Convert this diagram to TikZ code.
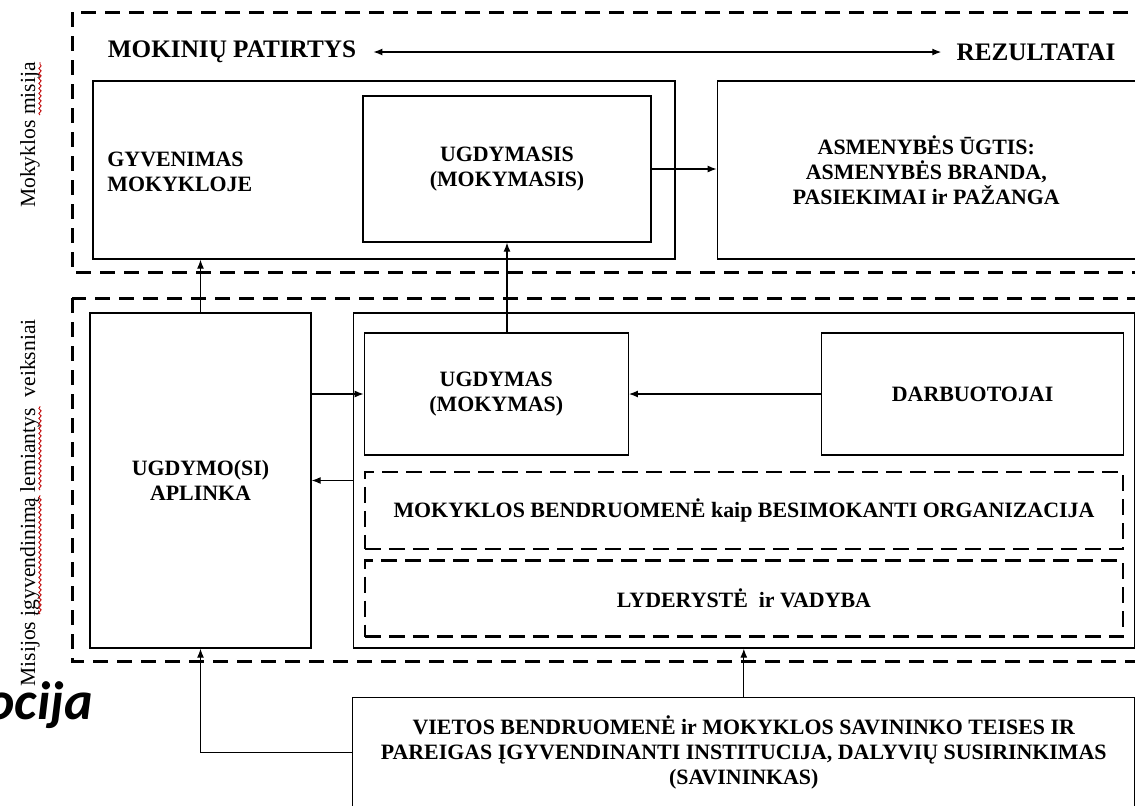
\documentclass[tikz,border=0pt]{standalone}
\usepackage{fontspec}
\setmainfont{Liberation Serif}
\newfontfamily\calibri{Carlito}
\usepackage{tikz}
\usetikzlibrary{shapes, arrows.meta, positioning, fit, decorations.pathmorphing}

\begin{document}
\begin{tikzpicture}[x=0.5pt, y=-0.5pt,
    block/.style={draw=black, rectangle, line width=0.65pt, inner sep=2pt, align=center, font=\fontsize{10.95}{12.6}\selectfont\bfseries},
    dblock/.style={block, line width=1.3pt, dash pattern=on 8pt off 4pt},
    frame/.style={draw=black, line width=1.5pt, dash pattern=on 7.5pt off 4.5pt},
    title/.style={inner sep=0pt, font=\fontsize{12.6}{14}\selectfont\bfseries},
    side/.style={rotate=90, inner sep=0pt, font=\fontsize{10.8}{13}\selectfont},
    arrow/.style={->, >={Latex[length=4.5pt,width=3.5pt]}, line width=0.6pt},
    squiggle/.style={red!75!black, line width=0.4pt, decorate, decoration={snake, amplitude=0.6pt, segment length=2.5pt}}
]
\useasboundingbox (0,0) rectangle (1135,805);
\clip (0,0) rectangle (1135,805);

% mission frame
\draw[frame] (72,12) rectangle (1180,272);
\node[title] (patirtys) at (232,52) {MOKINIŲ PATIRTYS};
\node[title] (rezultatai) at (1036,52) {REZULTATAI};
\node[block, minimum width=291pt, minimum height=89pt] (gyv) at (384,170) {};
\node[inner sep=0pt, anchor=west, align=left, font=\fontsize{10.95}{12.6}\selectfont\bfseries] (gyvtxt) at (107,172) {GYVENIMAS\\MOKYKLOJE};
\node[block, minimum width=144pt, minimum height=73pt] (ugdymasis) at (507,169) {UGDYMASIS\\(MOKYMASIS)};
\node[block, right=20.5pt of gyv, minimum width=209pt, minimum height=89pt] (ugtis) {ASMENYBĖS ŪGTIS:\\ASMENYBĖS BRANDA,\\PASIEKIMAI ir PAŽANGA};

% factors frame
\draw[frame] (72,298) rectangle (1180,661);
\node[block, minimum width=110.5pt, minimum height=167.5pt] (aplinka) at (200.5,480.5) {UGDYMO(SI)\\APLINKA};
\node[block, right=20.5pt of aplinka, minimum width=390.5pt, minimum height=167.5pt] (veiksniai) {};
\node[block, below right=10pt and 5.5pt of veiksniai.north west, minimum width=132pt, minimum height=61pt] (ugdymas) {UGDYMAS\\(MOKYMAS)};
\node[block, right=96pt of ugdymas, minimum width=151pt, minimum height=61pt] (darb) {DARBUOTOJAI};
\node[dblock, below right=7.5pt and 0pt of ugdymas.south west, minimum width=379pt, minimum height=38.5pt] (bendr) {MOKYKLOS BENDRUOMENĖ kaip BESIMOKANTI ORGANIZACIJA};
\node[dblock, below=4.5pt of bendr, minimum width=379pt, minimum height=38pt] (lyder) {LYDERYSTĖ~ ir VADYBA};
\node[block, below=24pt of veiksniai, minimum width=391pt, minimum height=55pt] (savin) {VIETOS BENDRUOMENĖ ir MOKYKLOS SAVININKO TEISES IR\\PAREIGAS ĮGYVENDINANTI INSTITUCIJA, DALYVIŲ SUSIRINKIMAS\\(SAVININKAS)};

\node[anchor=base east, inner sep=0pt, font=\calibri\bfseries\itshape\fontsize{27}{30}\selectfont] (ocija) at (93,719) {ocija};

% side labels
\node[side] (misija) at (30,135) {Mokyklos misija};
\node[side] (lemia) at (30,503) {Misijos įgyvendinimą lemiantys\ \ veiksniai};
\draw[squiggle] (40,115) -- (40,62);
\draw[squiggle] (40,614) -- (40,495);
\draw[squiggle] (40,490) -- (40,406);

\draw[arrow, <->, shorten <=8.5pt, shorten >=7.5pt] (patirtys.east) -- (rezultatai.west);
\draw[arrow] (ugdymasis.east) -- (ugdymasis.east -| ugtis.west);
\draw[arrow] (aplinka.north) -- (aplinka.north |- gyv.south);
\draw[arrow] (ugdymasis.south |- ugdymas.north) -- (ugdymasis.south);
\draw[arrow] (aplinka.east |- ugdymas.west) -- (ugdymas.west);
\draw[arrow] (darb) -- (ugdymas);
\draw[arrow] (veiksniai.west) -- (aplinka.east);
\draw[arrow] (savin.north) -- (veiksniai.south);
\draw[arrow] (savin.west) -| (aplinka.south);
\end{tikzpicture}
\end{document}
